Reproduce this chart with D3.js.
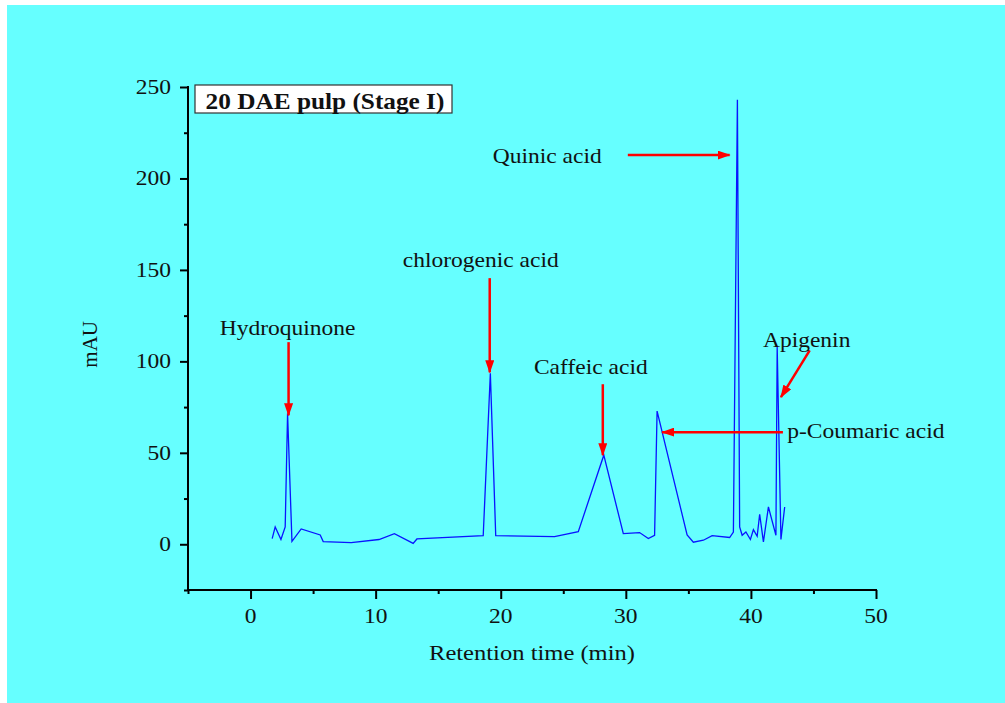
<!DOCTYPE html>
<html>
<head>
<meta charset="utf-8">
<script src="https://cdn.jsdelivr.net/npm/d3@7"></script>
<style>
  html, body { margin: 0; padding: 0; background: #ffffff; }
  svg { display: block; }
  text { font-family: "Liberation Serif", "Times New Roman", serif; fill: #111; }
</style>
</head>
<body>
<svg id="chart" width="1005" height="703"></svg>
<script>
// Chromatogram trace: retention time (min) and detector response (mAU)
const retentionTime = [
  1.73, 1.97, 2.43, 2.77, 2.96, 3.31, 4.05, 5.57, 5.81, 8.05,
  10.27, 11.5, 13.0, 13.3, 18.6, 19.17, 19.6, 24.3, 26.2, 28.24,
  29.8, 31.1, 31.8, 32.3, 32.5, 34.9, 35.4, 36.2, 36.9, 38.3,
  38.6, 38.92, 39.1, 39.3, 39.6, 39.96, 40.2, 40.5, 40.7, 41.0,
  41.4, 42.0, 42.1, 42.4, 42.7
];
const absorbance = [
  3.1, 9.5, 2.6, 9.5, 71.5, 1.6, 8.4, 5.1, 1.5, 0.9,
  2.6, 5.8, 0.5, 2.9, 4.7, 93.5, 4.7, 4.2, 6.9, 48.7,
  5.8, 6.4, 3.1, 4.9, 72.8, 5.1, 1.1, 2.2, 4.7, 3.7,
  6.7, 243, 9.5, 4.9, 6.7, 2.6, 8.0, 4.4, 16.4, 1.3,
  20.4, 4.9, 108, 2.6, 20.4
];

// Axis ticks
const xMajorTicks = [0, 10, 20, 30, 40, 50];
const xMinorTicks = [-5, 5, 15, 25, 35, 45];
const yMajorTicks = [0, 50, 100, 150, 200, 250];
const yMinorTicks = [-25, 25, 75, 125, 175, 225];

// Compound annotations: label, label anchor (data units), arrow start and tip (data units)
const compoundNames = ["Hydroquinone", "chlorogenic acid", "Caffeic acid", "Quinic acid", "Apigenin", "p-Coumaric acid"];
const labelX      = [2.96, 18.4, 27.2, 19.36, 40.96, 42.9];
const labelY      = [114.5, 151.5, 93.2, 208.2, 108.0, 58.0];
const labelAnchor = ["middle", "middle", "middle", "start", "start", "start"];
const arrowFromX  = [3.04, 19.12, 28.16, 30.16, 44.7, 42.56];
const arrowFromY  = [110.5, 145.5, 87.5, 212.8, 106.0, 61.3];
const arrowToX    = [3.04, 19.12, 28.16, 38.3, 42.4, 32.9];
const arrowToY    = [70.5, 94.0, 48.7, 212.8, 80.4, 61.3];

const titleText = "20 DAE pulp (Stage I)";
const xTitle = "Retention time (min)";
const yTitle = "mAU";

const svg = d3.select("#chart");
const W = 1005, H = 703;

// background panel
svg.append("rect").attr("x", 7).attr("y", 5).attr("width", W - 7).attr("height", H - 5)
  .attr("fill", "#66ffff");

const x = d3.scaleLinear().domain([-5, 50]).range([188, 876]);
const y = d3.scaleLinear().domain([-25, 250]).range([590, 87]);

const SX = 1.12; // horizontal glyph stretch
function stretchedText(g, px, py, str, opts = {}) {
  const t = g.append("text")
    .attr("transform", `translate(${px},${py}) scale(${opts.sx || SX},1)`)
    .attr("text-anchor", opts.anchor || "middle")
    .attr("font-size", opts.size || 21)
    .text(str);
  if (opts.bold) t.attr("font-weight", "bold");
  return t;
}

// arrowhead marker
const defs = svg.append("defs");
defs.append("marker").attr("id", "arrowHead")
  .attr("viewBox", "0 0 13 9").attr("refX", 12).attr("refY", 4.5)
  .attr("markerWidth", 13).attr("markerHeight", 9)
  .attr("markerUnits", "userSpaceOnUse").attr("orient", "auto")
  .append("path").attr("d", "M0,0 L13,4.5 L0,9 Z").attr("fill", "#ff0000");

// axes
const axisG = svg.append("g").attr("stroke", "#000").attr("stroke-width", 2);
const xAxis = d3.axisBottom(x).tickValues(xMajorTicks).tickSize(9).tickFormat("");
const xAxisMinor = d3.axisBottom(x).tickValues(xMinorTicks).tickSize(4).tickFormat("");
const yAxis = d3.axisLeft(y).tickValues(yMajorTicks).tickSize(8).tickFormat("");
const yAxisMinor = d3.axisLeft(y).tickValues(yMinorTicks).tickSize(4).tickFormat("");

function styleAxis(g) {
  g.select(".domain").remove();
  g.selectAll("line").attr("stroke", "#000").attr("stroke-width", 2);
}
svg.append("g").attr("transform", `translate(0,${y(-25)})`).call(xAxis).call(styleAxis);
svg.append("g").attr("transform", `translate(0,${y(-25)})`).call(xAxisMinor).call(styleAxis);
svg.append("g").attr("transform", `translate(${x(-5)},0)`).call(yAxis).call(styleAxis);
svg.append("g").attr("transform", `translate(${x(-5)},0)`).call(yAxisMinor).call(styleAxis);

axisG.append("line").attr("x1", x(-5) - 1).attr("x2", x(50) + 1)
  .attr("y1", y(-25)).attr("y2", y(-25));
axisG.append("line").attr("x1", x(-5)).attr("x2", x(-5))
  .attr("y1", y(250) - 1).attr("y2", y(-25) + 1);

// tick labels
const labelsG = svg.append("g");
xMajorTicks.forEach(v => stretchedText(labelsG, x(v), y(-25) + 33, String(v)));
yMajorTicks.forEach(v => stretchedText(labelsG, x(-5) - 17, y(v) + 7, String(v), { anchor: "end" }));

// axis titles
stretchedText(labelsG, (x(-5) + x(50)) / 2, 660, xTitle, { sx: 1.17 });
labelsG.append("text")
  .attr("transform", `translate(97,${y(100) - 17}) rotate(-90)`)
  .attr("text-anchor", "middle").attr("font-size", 21).text(yTitle);

// chromatogram line
const points = retentionTime.map((t, i) => [t, absorbance[i]]);
svg.append("path").datum(points)
  .attr("fill", "none").attr("stroke", "#0a14ff").attr("stroke-width", 1.3)
  .attr("stroke-linejoin", "miter")
  .attr("d", d3.line().x(d => x(d[0])).y(d => y(d[1])));

// annotations
const annG = svg.append("g");
compoundNames.forEach((name, i) => {
  annG.append("line")
    .attr("x1", x(arrowFromX[i])).attr("y1", y(arrowFromY[i]))
    .attr("x2", x(arrowToX[i])).attr("y2", y(arrowToY[i]))
    .attr("stroke", "#ff0000").attr("stroke-width", 2.5)
    .attr("marker-end", "url(#arrowHead)");
  stretchedText(annG, x(labelX[i]), y(labelY[i]), name, { anchor: labelAnchor[i] });
});

// title box
const titleG = svg.append("g");
titleG.append("rect").attr("x", 195).attr("y", 85).attr("width", 257).attr("height", 28)
  .attr("fill", "#ffffff").attr("stroke", "#333").attr("stroke-width", 1.2);
stretchedText(titleG, 325, 108.5, titleText, { bold: true, size: 23, sx: 1.1 });
</script>
</body>
</html>
